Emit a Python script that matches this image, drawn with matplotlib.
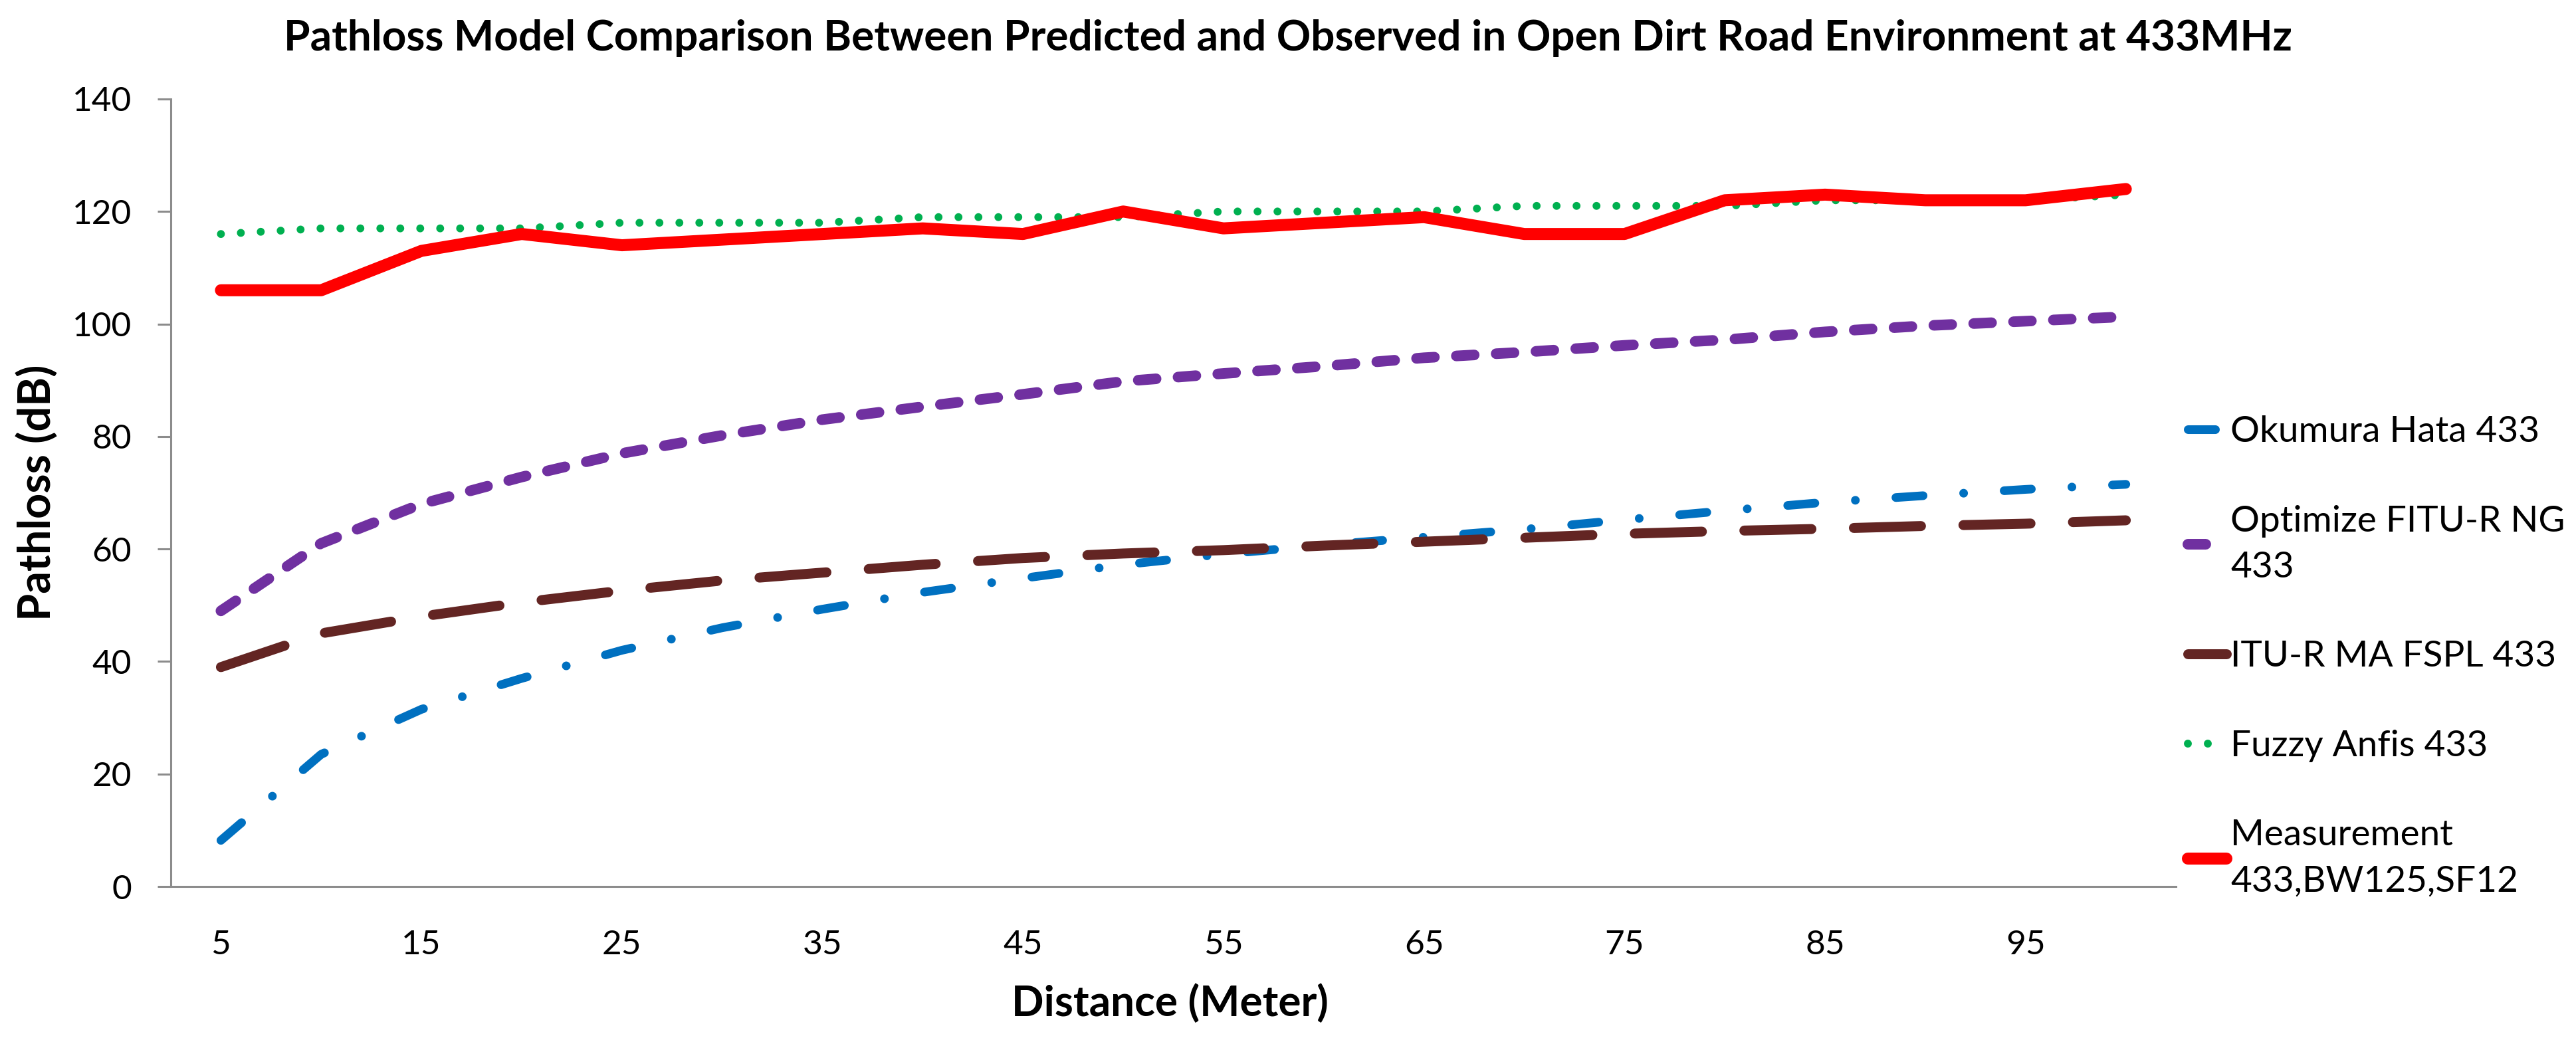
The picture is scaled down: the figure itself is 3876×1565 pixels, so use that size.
import matplotlib

matplotlib.use("Agg")
import matplotlib.pyplot as plt
import numpy as np

plt.rcParams["font.family"] = ["Lato", "DejaVu Sans"]
plt.rcParams["lines.scale_dashes"] = False  # dash lengths in points

# --- data -------------------------------------------------------------------
distance = [5, 10, 15, 20, 25, 30, 35, 40, 45, 50,
            55, 60, 65, 70, 75, 80, 85, 90, 95, 100]
okumura_hata = [8.2, 23.5, 31.5, 37.0, 42.0, 46.0, 49.3, 52.3, 54.8, 57.2,
                59.1, 60.7, 62.1, 63.5, 65.2, 66.8, 68.3, 69.5, 70.6, 71.5]
optimize_fitu = [49.0, 61.0, 68.0, 72.8, 77.0, 80.2, 83.0, 85.3, 87.5, 89.8,
                 91.2, 92.5, 94.0, 95.0, 96.2, 97.2, 98.6, 99.7, 100.5, 101.3]
itu_fspl = [39.0, 45.0, 48.0, 50.5, 52.6, 54.4, 55.8, 57.2, 58.4, 59.2,
            59.8, 60.6, 61.3, 62.0, 62.7, 63.2, 63.6, 64.1, 64.5, 65.1]
fuzzy_anfis = [116, 117, 117, 117, 118, 118, 118, 119, 119, 119,
               120, 120, 120, 121, 121, 121, 122, 122, 122, 123]
measurement = [106, 106, 113, 116, 114, 115, 116, 117, 116, 120,
               117, 118, 119, 116, 116, 122, 123, 122, 122, 124]

labels = ["Okumura Hata 433", "Optimize FITU-R NG\n433", "ITU-R MA FSPL 433",
          "Fuzzy Anfis 433", "Measurement\n433,BW125,SF12"]
xtick_labels = [str(d) for d in distance[::2]]

# --- figure -------------------------------------------------------------------
fig = plt.figure(figsize=(38.76, 15.65), dpi=100)
ax = fig.add_axes([0.0663, 0.1476, 0.7784, 0.7572])

x = np.arange(len(distance))  # Excel-style category axis

ax.plot(x, okumura_hata, color="#0070C0", lw=9.4, dashes=(29.5, 44, 0.01, 44),
        dash_capstyle="round", label=labels[0])
ax.plot(x, optimize_fitu, color="#7030A0", lw=11.5, dashes=(19.4, 23.8),
        dash_capstyle="round", label=labels[1])
ax.plot(x, itu_fspl, color="#632523", lw=10.8, dashes=(72.7, 46),
        dash_capstyle="round", label=labels[2])
ax.plot(x, fuzzy_anfis, color="#00B050", lw=8.6, dashes=(0.01, 21.6),
        dash_capstyle="round", label=labels[3])
ax.plot(x, measurement, color="#FF0000", lw=13, solid_capstyle="round",
        solid_joinstyle="round", label=labels[4])

ax.set_xlim(-0.5, len(distance) - 0.5)
ax.set_ylim(0, 140)
ax.set_yticks(np.arange(0, 141, 20))
ax.set_xticks(x[::2])
ax.set_xticklabels(xtick_labels)

axis_grey = "#8c8c8c"
for side in ("top", "right"):
    ax.spines[side].set_visible(False)
for side in ("left", "bottom"):
    ax.spines[side].set_color(axis_grey)
    ax.spines[side].set_linewidth(2.2)
ax.tick_params(axis="y", direction="out", length=14.4, width=2.2,
               color=axis_grey, pad=28, labelsize=37)
ax.tick_params(axis="x", length=0, pad=47, labelsize=37)

fig.suptitle("Pathloss Model Comparison Between Predicted and Observed in "
             "Open Dirt Road Environment at 433MHz",
             x=0.5, y=1 - 76.5 / 1565, va="baseline", fontsize=46,
             fontweight="bold")
fig.text(57 / 3876, 1 - 741 / 1565, "Pathloss (dB)", rotation=90,
         ha="center", va="center", fontsize=48, fontweight="bold")
fig.text(1760 / 3876, 1 - 1529 / 1565, "Distance (Meter)", ha="center",
         va="baseline", fontsize=46, fontweight="bold")

leg = fig.legend(loc="upper left", bbox_to_anchor=(3292 / 3876, 1 - 625 / 1565),
                 frameon=False, fontsize=39.5, handlelength=1.05,
                 handletextpad=0.12, labelspacing=1.56, borderpad=0,
                 borderaxespad=0)
for t in leg.get_texts():
    t.set_linespacing(1.5)

fig.savefig("out.png", dpi=100)
